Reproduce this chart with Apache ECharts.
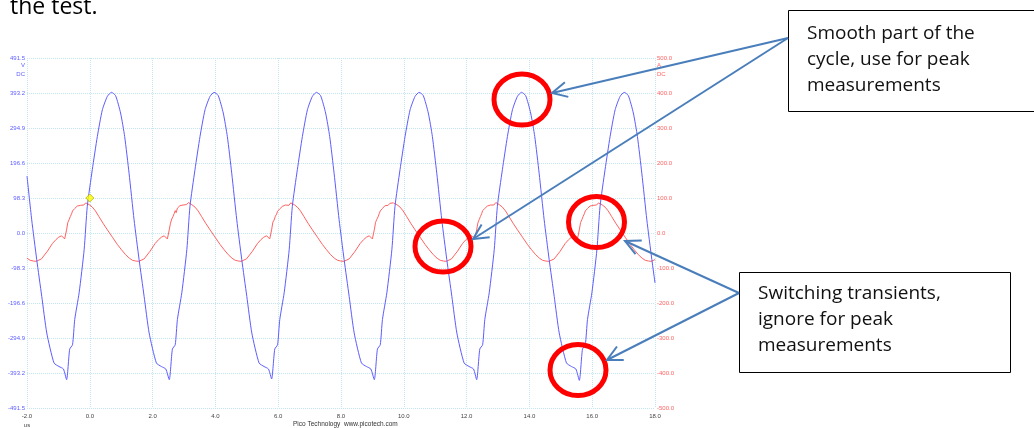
<!DOCTYPE html>
<html>
<head>
<meta charset="utf-8">
<script src="https://cdn.jsdelivr.net/npm/echarts@6/dist/echarts.min.js"></script>
<style>
  html, body { margin: 0; padding: 0; background: #fff; }
  #main { width: 1034px; height: 428px; }
</style>
</head>
<body>
<div id="main"></div>
<script>
// time axis, us
var xMin = -2, xMax = 18, xStep = 2
// left axis (channel A, V) and right axis (channel B)
var leftMax = 491.5, leftStep = 98.3
var rightMax = 500, rightStep = 100

// channel A (blue) [us, V]
var chanA = [
  [-2.00, 160], [-1.85, 37], [-1.69, -75], [-1.53, -178], [-1.37, -281], [-1.14, -365], [-0.98, -375], [-0.84, -382],
  [-0.74, -412], [-0.64, -326], [-0.55, -314], [-0.48, -243], [-0.34, -168], [-0.18, -47], [-0.08, 75], [0.08, 178],
  [0.24, 271], [0.40, 346], [0.56, 384], [0.69, 395], [0.82, 386], [0.98, 337], [1.11, 271], [1.25, 168],
  [1.41, 37], [1.57, -75], [1.73, -178], [1.89, -281], [2.12, -365], [2.28, -375], [2.42, -382],
  [2.53, -412], [2.63, -326], [2.72, -314], [2.79, -243], [2.93, -168], [3.09, -47], [3.19, 75], [3.35, 178],
  [3.51, 271], [3.67, 346], [3.83, 384], [3.96, 395], [4.09, 386], [4.25, 337], [4.38, 271], [4.52, 168],
  [4.68, 37], [4.84, -75], [5.00, -178], [5.16, -281], [5.39, -365], [5.55, -375], [5.69, -382],
  [5.79, -410], [5.89, -326], [5.98, -314], [6.05, -243], [6.19, -168], [6.35, -47], [6.45, 75], [6.61, 178],
  [6.77, 271], [6.93, 346], [7.09, 384], [7.22, 395], [7.35, 386], [7.51, 337], [7.64, 271], [7.78, 168],
  [7.94, 37], [8.10, -75], [8.26, -178], [8.42, -281], [8.65, -365], [8.81, -375], [8.95, -382],
  [9.06, -412], [9.16, -326], [9.25, -314], [9.32, -243], [9.46, -168], [9.62, -47], [9.72, 75], [9.88, 178],
  [10.04, 271], [10.20, 346], [10.36, 384], [10.49, 395], [10.62, 386], [10.78, 337], [10.91, 271], [11.05, 168],
  [11.21, 37], [11.37, -75], [11.53, -178], [11.69, -281], [11.92, -365], [12.08, -375], [12.22, -382],
  [12.32, -412], [12.42, -326], [12.51, -314], [12.58, -243], [12.72, -168], [12.88, -47], [12.98, 75], [13.14, 178],
  [13.30, 271], [13.46, 346], [13.62, 384], [13.75, 395], [13.88, 386], [14.04, 337], [14.17, 271], [14.31, 168],
  [14.47, 37], [14.63, -75], [14.79, -178], [14.95, -281], [15.18, -365], [15.34, -375], [15.48, -382],
  [15.59, -414], [15.69, -326], [15.78, -314], [15.85, -243], [15.99, -168], [16.15, -47], [16.25, 75], [16.41, 178],
  [16.57, 271], [16.73, 346], [16.89, 384], [17.02, 395], [17.15, 386], [17.31, 337], [17.44, 271], [17.58, 168],
  [17.74, 37], [17.90, -75], [18.00, -140]
]

// channel B (red) [us, value]
var chanB = [
  [-2.00, -72], [-1.90, -78], [-1.80, -80],
  [-1.71, -81], [-1.54, -74], [-1.35, -52], [-1.19, -30], [-1.08, -19], [-0.99, -12], [-0.90, -8], [-0.80, -17],
  [-0.74, 9], [-0.70, 30], [-0.66, 38], [-0.62, 47], [-0.58, 55], [-0.55, 63], [-0.52, 59], [-0.48, 70],
  [-0.44, 72], [-0.40, 77], [-0.36, 74], [-0.30, 79], [-0.24, 84], [-0.19, 80], [-0.13, 86], [-0.08, 84],
  [-0.02, 81], [0.08, 74], [0.18, 63], [0.29, 47], [0.42, 28], [0.56, 9], [0.72, -12], [0.88, -33],
  [1.01, -48], [1.14, -62], [1.26, -72], [1.36, -78], [1.46, -80],
  [1.56, -81], [1.73, -74], [1.92, -52], [2.08, -30], [2.19, -19], [2.28, -12], [2.37, -8], [2.47, -17],
  [2.53, 9], [2.57, 28], [2.61, 40], [2.65, 47], [2.69, 56], [2.72, 64], [2.75, 58], [2.79, 71],
  [2.83, 70], [2.87, 78], [2.91, 73], [2.97, 80], [3.03, 83], [3.08, 81], [3.14, 87], [3.19, 84],
  [3.25, 81], [3.35, 74], [3.45, 63], [3.56, 47], [3.69, 28], [3.83, 9], [3.99, -12], [4.15, -33],
  [4.28, -48], [4.41, -62], [4.53, -72], [4.63, -78], [4.73, -80],
  [4.82, -81], [4.99, -74], [5.18, -52], [5.34, -30], [5.45, -19], [5.54, -12], [5.63, -8], [5.73, -17],
  [5.79, 9], [5.83, 31], [5.87, 37], [5.91, 48], [5.95, 54], [5.98, 62], [6.01, 60], [6.05, 69],
  [6.09, 73], [6.13, 76], [6.17, 75], [6.23, 80], [6.29, 84], [6.34, 79], [6.40, 86], [6.45, 85],
  [6.51, 81], [6.61, 74], [6.71, 63], [6.82, 47], [6.95, 28], [7.09, 9], [7.25, -12], [7.41, -33],
  [7.54, -48], [7.67, -62], [7.79, -72], [7.89, -78], [7.99, -80],
  [8.09, -81], [8.26, -74], [8.45, -52], [8.61, -30], [8.72, -19], [8.81, -12], [8.90, -8], [9.00, -17],
  [9.06, 9], [9.10, 30], [9.14, 39], [9.18, 46], [9.22, 56], [9.25, 63], [9.28, 58], [9.32, 70],
  [9.36, 72], [9.40, 78], [9.44, 74], [9.50, 79], [9.56, 85], [9.61, 80], [9.67, 86], [9.72, 83],
  [9.78, 81], [9.88, 74], [9.98, 63], [10.09, 47], [10.22, 28], [10.36, 9], [10.52, -12], [10.68, -33],
  [10.81, -48], [10.94, -62], [11.06, -72], [11.16, -78], [11.26, -80],
  [11.35, -81], [11.52, -74], [11.71, -52], [11.87, -30], [11.98, -19], [12.07, -12], [12.16, -8], [12.26, -17],
  [12.32, 9], [12.36, 29], [12.40, 38], [12.44, 47], [12.48, 55], [12.51, 64], [12.54, 59], [12.58, 70],
  [12.62, 73], [12.66, 77], [12.70, 74], [12.76, 80], [12.82, 84], [12.87, 80], [12.93, 87], [12.98, 84],
  [13.04, 81], [13.14, 74], [13.24, 63], [13.35, 47], [13.48, 28], [13.62, 9], [13.78, -12], [13.94, -33],
  [14.07, -48], [14.20, -62], [14.32, -72], [14.42, -78], [14.52, -80],
  [14.62, -81], [14.79, -74], [14.98, -52], [15.14, -30], [15.25, -19], [15.34, -12], [15.43, -8], [15.53, -17],
  [15.59, 9], [15.63, 30], [15.67, 38], [15.71, 47], [15.75, 55], [15.78, 63], [15.81, 59], [15.85, 70],
  [15.89, 72], [15.93, 77], [15.97, 74], [16.03, 79], [16.09, 84], [16.14, 80], [16.20, 86], [16.25, 84],
  [16.31, 81], [16.41, 74], [16.51, 63], [16.62, 47], [16.75, 28], [16.89, 9], [17.05, -12], [17.21, -33],
  [17.34, -48], [17.47, -62], [17.59, -72], [17.69, -78], [17.79, -80], [17.88, -81], [18.00, -76]
]

// trigger point (left axis units)
var trigger = [[0, 98.3]]

var blue = '#5c5cff'
var red = '#ff6262'
var gridColor = '#c2e6f2'
var ink = '#4a7ebb'
var small = '"Liberation Sans", sans-serif'
var doc = '"Open Sans", sans-serif'

function arrow(x1, y1, x2, y2) {
  var dx = x2 - x1, dy = y2 - y1
  var len = Math.sqrt(dx * dx + dy * dy)
  var ux = dx / len, uy = dy / len
  var hl = 15, hw = 7.5
  var bx = x2 - ux * hl, by = y2 - uy * hl
  return [
    { type: 'line', z: 100, shape: { x1: x1, y1: y1, x2: x2, y2: y2 }, style: { stroke: ink, lineWidth: 2 } },
    {
      type: 'polyline', z: 100,
      shape: { points: [[bx - uy * hw, by + ux * hw], [x2, y2], [bx + uy * hw, by - ux * hw]] },
      style: { stroke: ink, lineWidth: 2, fill: null }
    }
  ]
}

function ring(cx, cy) {
  return {
    type: 'ellipse', z: 90,
    shape: { cx: cx, cy: cy, rx: 28, ry: 25.5 },
    style: { fill: null, stroke: '#ff0000', lineWidth: 5 }
  }
}

var notes = [
  // document text above the screenshot
  { type: 'text', z: 100, x: 10, y: -4, style: { text: 'the test.', font: '23px ' + doc, fill: '#000', lineHeight: 23 } },
  // scope unit captions
  { type: 'text', x: 25, y: 62, style: { text: 'V', font: '6px ' + small, fill: blue, align: 'right' } },
  { type: 'text', x: 25, y: 71, style: { text: 'DC', font: '6px ' + small, fill: blue, align: 'right' } },
  { type: 'text', x: 657, y: 62, style: { text: 'A', font: '6px ' + small, fill: red } },
  { type: 'text', x: 657, y: 71, style: { text: 'DC', font: '6px ' + small, fill: red } },
  { type: 'text', x: 27, y: 422, style: { text: 'us', font: '6px ' + small, fill: '#444', align: 'center' } },
  { type: 'text', x: 293, y: 421, style: { text: 'Pico Technology  www.picotech.com', font: '6.5px ' + small, fill: '#333' } },
  // circles
  ring(522, 99.5), ring(443, 246.5), ring(596.5, 222), ring(578, 370),
  // callout boxes
  { type: 'rect', z: 95, shape: { x: 788.5, y: 10.5, width: 260, height: 101 }, style: { fill: '#fff', stroke: '#000', lineWidth: 1 } },
  { type: 'text', z: 100, x: 807, y: 21, style: { text: 'Smooth part of the\ncycle, use for peak\nmeasurements', font: '19px ' + doc, fill: '#111', lineHeight: 26 } },
  { type: 'rect', z: 95, shape: { x: 739.5, y: 272.5, width: 271, height: 100 }, style: { fill: '#fff', stroke: '#000', lineWidth: 1 } },
  { type: 'text', z: 100, x: 758, y: 281, style: { text: 'Switching transients,\nignore for peak\nmeasurements', font: '19px ' + doc, fill: '#111', lineHeight: 26 } }
]
notes = notes
  .concat(arrow(788, 38, 552, 93))
  .concat(arrow(788, 38, 473, 239))
  .concat(arrow(739, 293, 625, 241))
  .concat(arrow(739, 293, 607, 360))

var chart = echarts.init(document.getElementById('main'), null, { renderer: 'canvas' })

var option = {
  animation: false,
  backgroundColor: '#fff',
  grid: { left: 27, right: 379, top: 58, bottom: 20 },
  xAxis: {
    type: 'value',
    min: xMin, max: xMax, interval: xStep,
    axisLine: { show: false },
    axisTick: { show: false },
    axisLabel: { fontSize: 6, fontFamily: small, color: '#444', margin: 5, formatter: function (v) { return v.toFixed(1) } },
    splitLine: { show: true, lineStyle: { color: gridColor, type: 'dotted', width: 1 } }
  },
  yAxis: [
    {
      type: 'value',
      min: -leftMax, max: leftMax, interval: leftStep,
      axisLine: { show: false },
      axisTick: { show: false },
      axisLabel: { fontSize: 6, fontFamily: small, color: blue, margin: 2, formatter: function (v) { return v.toFixed(1) } },
      splitLine: { show: true, lineStyle: { color: gridColor, type: 'dotted', width: 1 } }
    },
    {
      type: 'value',
      position: 'right',
      min: -rightMax, max: rightMax, interval: rightStep,
      axisLine: { show: false },
      axisTick: { show: false },
      axisLabel: { fontSize: 6, fontFamily: small, color: red, margin: 2, formatter: function (v) { return v.toFixed(1) } },
      splitLine: { show: false }
    }
  ],
  series: [
    {
      name: 'B', type: 'line', yAxisIndex: 1, data: chanB,
      showSymbol: false, lineStyle: { color: red, width: 1 }, z: 2
    },
    {
      name: 'A', type: 'line', yAxisIndex: 0, data: chanA,
      showSymbol: false, smooth: 0.2, lineStyle: { color: blue, width: 1 }, z: 3
    },
    {
      name: 'trigger', type: 'scatter', yAxisIndex: 0, data: trigger,
      symbol: 'diamond', symbolSize: 8,
      itemStyle: { color: '#ffff00', borderColor: '#b5b500', borderWidth: 1 }, z: 4
    }
  ],
  graphic: notes
}

chart.setOption(option)
</script>
</body>
</html>
